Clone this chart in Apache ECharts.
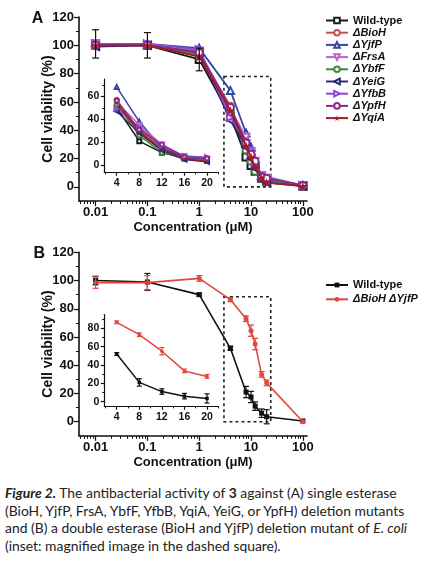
<!DOCTYPE html>
<html><head><meta charset="utf-8">
<script src="https://cdn.jsdelivr.net/npm/echarts@6/dist/echarts.min.js"></script>
<style>
html,body{margin:0;padding:0;background:#fff;width:431px;height:561px;overflow:hidden}
#chart{position:absolute;left:0;top:0;width:431px;height:480px}
#cap{position:absolute;left:5px;top:484px;width:426px;font-family:Lato,'Open Sans',sans-serif;font-size:13.9px;line-height:17.7px;color:#222;white-space:nowrap}
</style></head><body>
<div id="chart"></div>
<div id="cap"><b><i>Figure 2.</i></b> The antibacterial activity of <b>3</b> against (A) single esterase<br>(BioH, YjfP, FrsA, YbfF, YfbB, YqiA, YeiG, or YpfH) deletion mutants<br>and (B) a double esterase (BioH and YjfP) deletion mutant of <i>E. coli</i><br>(inset: magnified image in the dashed square).</div>
<script>
// ---------------- DATA ----------------
const concentrations = [0.01, 0.1, 1, 4, 8, 10, 12, 16, 20, 100];
const insetConcentrations = [4, 8, 12, 16, 20];
const xTickValues = [0.01, 0.1, 1, 10, 100];
const xTickLabels = ['0.01', '0.1', '1', '10', '100'];
const yTickLabelsMain = [0, 20, 40, 60, 80, 100, 120];
const yTickLabelsInsetA = [0, 20, 40, 60];
const yTickLabelsInsetB = [0, 20, 40, 60, 80];
const xTickLabelsInset = [4, 8, 12, 16, 20];

const namesA = ['Wild-type', 'ΔBioH', 'ΔYjfP', 'ΔFrsA', 'ΔYbfF', 'ΔYeiG', 'ΔYfbB', 'ΔYpfH', 'ΔYqiA'];
const wildTypeA = [101, 100, 90, 50, 21, 15, 11, 6, 4, 0.5];
const bioHA     = [100, 100, 94, 57, 30, 22, 16, 6, 4, 0.8];
const yjfPA     = [100, 101, 98, 68, 38, 28, 15, 7, 5, 1];
const frsAA     = [101, 100, 96, 55, 35, 25, 18, 8, 6, 1];
const ybfFA     = [100, 100, 93, 53, 26, 18, 11, 6, 4, 0.5];
const yeiGA     = [99, 100, 95, 47, 28, 20, 13, 5, 3, 0.5];
const yfbBA     = [101, 101, 97, 49, 33, 26, 17, 8, 7, 1];
const ypfHA     = [100, 100, 95, 56, 31, 23, 18, 7, 6, 1];
const yqiAA     = [100, 100, 92, 54, 29, 21, 14, 6, 3, 0.5];
const wildTypeErrA = [10, 9, 8, 0, 0, 0, 0, 0, 0, 0];

const namesB = ['Wild-type ', 'ΔBioH ΔYjfP'];
const wildTypeB = [100, 99, 90, 52, 21, 17.5, 11, 6, 3.5, 0.5];
const doubleB   = [98.5, 98.5, 101.5, 86.5, 73, 64.5, 55, 33.5, 27.5, 0];
const wildTypeErrB = [3, 6, 1, 1.5, 4, 4, 3, 3, 5, 0];
const doubleErrB   = [4, 5, 2, 1.5, 2, 4, 4, 2, 2, 0];

const boxA = [3, 24, 0, 78];    // x0, x1, y0, y1
const boxB = [3, 24, 0, 88.5];

// ---------------- STYLE ----------------
const FONT = '"Liberation Sans", Arial, sans-serif';
const INK = '#111';
const colorsA = ['#1a1a1a', '#c8504a', '#3548a8', '#c060c8', '#3a8a3a', '#2a2a70', '#8a4ad0', '#8a2a8a', '#a01a2a'];
const STAR = 'path://M50,0 L61,35 L98,35 L68,57 L79,91 L50,70 L21,91 L32,57 L2,35 L39,35 Z';
const symbolsA = ['emptyRect', 'emptyCircle', 'emptyTriangle', 'emptyTriangle', 'emptyCircle', 'emptyTriangle', 'emptyTriangle', 'emptyCircle', STAR];
const rotatesA = [0, 0, 0, 180, 0, 90, -90, 0, 0];
const colorsB = ['#111111', '#e2463e'];
const valuesA = [wildTypeA, bioHA, yjfPA, frsAA, ybfFA, yeiGA, yfbBA, ypfHA, yqiAA];

const L = v => Math.log10(v);
const xMinorTicks = [];
for (let e = -3; e <= 1; e++) for (let k = 2; k <= 9; k++) { const v = k * Math.pow(10, e); if (v > 0.0049 && v < 120) xMinorTicks.push(v); }

function labelFor(v) {
  for (let i = 0; i < xTickValues.length; i++) if (Math.abs(L(xTickValues[i]) - v) < 1e-6) return xTickLabels[i];
  return '';
}

const grids = [
  { left: 79, top: 17, width: 228, height: 184 },
  { left: 104.3, top: 79, width: 114, height: 93.2 },
  { left: 79, top: 252.3, width: 228, height: 183.5 },
  { left: 104.3, top: 314.5, width: 114, height: 91.75 }
].map(g => Object.assign({ containLabel: false, outerBoundsMode: 'none' }, g));

const xAxes = [], yAxes = [];
function addX(grid, min, max, majors, minors, fs, fmt, name, lw, tl) {
  xAxes.push({
    type: 'value', gridIndex: grid, min, max, position: 'bottom',
    axisLine: { show: true, onZero: false, lineStyle: { color: INK, width: lw } },
    axisTick: { show: true, customValues: majors, length: tl, lineStyle: { color: INK, width: 1.2 } },
    axisLabel: { show: true, customValues: majors, formatter: fmt, margin: 5, fontSize: fs, fontWeight: 'bold', color: INK, fontFamily: FONT },
    splitLine: { show: false },
    name: name || '', nameLocation: 'middle', nameGap: 20, nameMoveOverlap: false,
    nameTextStyle: { fontSize: 13, fontWeight: 'bold', color: INK, fontFamily: FONT }
  });
  xAxes.push({
    type: 'value', gridIndex: grid, min, max, position: 'bottom', offset: 0,
    axisLine: { show: false, onZero: false },
    axisTick: { show: true, customValues: minors, length: tl * 0.6, lineStyle: { color: INK, width: 1 } },
    axisLabel: { show: false }, splitLine: { show: false }
  });
}
function addY(grid, min, max, majors, minors, fs, name, lw, tl) {
  yAxes.push({
    type: 'value', gridIndex: grid, min, max, position: 'left',
    axisLine: { show: true, onZero: false, lineStyle: { color: INK, width: lw } },
    axisTick: { show: true, customValues: majors, length: tl, lineStyle: { color: INK, width: 1.2 } },
    axisLabel: { show: true, customValues: majors, margin: 5, fontSize: fs, fontWeight: 'bold', color: INK, fontFamily: FONT },
    splitLine: { show: false },
    name: name || '', nameLocation: 'middle', nameGap: 24, nameRotate: 90, nameMoveOverlap: false,
    nameTextStyle: { fontSize: 14, fontWeight: 'bold', color: INK, fontFamily: FONT }
  });
  yAxes.push({
    type: 'value', gridIndex: grid, min, max, position: 'left', offset: 0,
    axisLine: { show: false, onZero: false },
    axisTick: { show: true, customValues: minors, length: tl * 0.6, lineStyle: { color: INK, width: 1 } },
    axisLabel: { show: false }, splitLine: { show: false }
  });
}
const fmtMain = v => labelFor(v);
const fmtInset = v => String(v);
addX(0, -2.32, 2.08, xTickValues.map(L), xMinorTicks.map(L), 13, fmtMain, 'Concentration (μM)', 1.6, 5);
addY(0, -10, 120, yTickLabelsMain, [10, 30, 50, 70, 90, 110], 13, 'Cell viability (%)', 1.6, 5);
addX(1, 1.8, 22, xTickLabelsInset, [2, 6, 10, 14, 18, 22], 10.5, fmtInset, '', 1.2, 3.5);
addY(1, -6, 75, yTickLabelsInsetA, [10, 30, 50, 70], 10.5, '', 1.2, 3.5);
addX(2, -2.32, 2.08, xTickValues.map(L), xMinorTicks.map(L), 13, fmtMain, 'Concentration (μM)', 1.6, 5);
addY(2, -10, 120, yTickLabelsMain, [10, 30, 50, 70, 90, 110], 13, 'Cell viability (%)', 1.6, 5);
addX(3, 1.8, 22, xTickLabelsInset, [2, 6, 10, 14, 18, 22], 10.5, fmtInset, '', 1.2, 3.5);
addY(3, -5, 95, yTickLabelsInsetB, [10, 30, 50, 70, 90], 10.5, '', 1.2, 3.5);

function errorBars(ax, xs, ys, errs, color, cap, useLog) {
  const data = [];
  xs.forEach((x, i) => { if (errs[i] > 0) data.push([useLog ? L(x) : x, ys[i] - errs[i], ys[i] + errs[i]]); });
  return {
    type: 'custom', xAxisIndex: ax, yAxisIndex: ax, z: 4, silent: true, data,
    encode: { x: 0, y: [1, 2] },
    renderItem(params, api) {
      const lo = api.coord([api.value(0), api.value(1)]);
      const hi = api.coord([api.value(0), api.value(2)]);
      const st = { stroke: color, lineWidth: 1.2 };
      return { type: 'group', children: [
        { type: 'line', shape: { x1: lo[0], y1: lo[1], x2: hi[0], y2: hi[1] }, style: st },
        { type: 'line', shape: { x1: lo[0] - cap, y1: lo[1], x2: lo[0] + cap, y2: lo[1] }, style: st },
        { type: 'line', shape: { x1: hi[0] - cap, y1: hi[1], x2: hi[0] + cap, y2: hi[1] }, style: st }
      ] };
    }
  };
}
function dashedBox(ax, box) {
  return {
    type: 'custom', xAxisIndex: ax, yAxisIndex: ax, z: 1, silent: true,
    data: [[L(box[0]), box[2], L(box[1]), box[3]]],
    encode: { x: [0, 2], y: [1, 3] },
    renderItem(params, api) {
      const p0 = api.coord([api.value(0), api.value(3)]);
      const p1 = api.coord([api.value(2), api.value(1)]);
      return { type: 'rect', shape: { x: p0[0], y: p0[1], width: p1[0] - p0[0], height: p1[1] - p0[1] },
        style: { fill: 'none', stroke: '#222', lineWidth: 1.6, lineDash: [3, 3] } };
    }
  };
}
const insetIdx = insetConcentrations.map(c => concentrations.indexOf(c));

const series = [];
// Panel A main
namesA.forEach((n, s) => {
  series.push({
    type: 'line', name: n, xAxisIndex: 0, yAxisIndex: 0, z: 3 + s * 0.01,
    data: concentrations.map((c, i) => [L(c), valuesA[s][i]]),
    symbol: symbolsA[s], symbolRotate: rotatesA[s], symbolSize: s === 8 ? 9 : 7,
    lineStyle: { color: colorsA[s], width: 1.8 }, itemStyle: { color: colorsA[s], borderWidth: 1.4 }
  });
});
series.push(errorBars(0, concentrations, wildTypeA, wildTypeErrA, '#111', 3.5, true));
series.push(dashedBox(0, boxA));
// Panel A inset
namesA.forEach((n, s) => {
  series.push({
    type: 'line', name: n, xAxisIndex: 2, yAxisIndex: 2,
    data: insetIdx.map(i => [concentrations[i], valuesA[s][i]]),
    symbol: symbolsA[s], symbolRotate: rotatesA[s], symbolSize: 4,
    lineStyle: { color: colorsA[s], width: 1.5 }, itemStyle: { color: colorsA[s], borderWidth: 1 }
  });
});
// Panel B main
const valuesB = [wildTypeB, doubleB];
const errsB = [wildTypeErrB, doubleErrB];
namesB.forEach((n, s) => {
  series.push({
    type: 'line', name: n, xAxisIndex: 4, yAxisIndex: 4, z: 3 + s * 0.01,
    data: concentrations.map((c, i) => [L(c), valuesB[s][i]]),
    symbol: s === 0 ? 'rect' : 'circle', symbolSize: 5,
    lineStyle: { color: colorsB[s], width: 1.6 }, itemStyle: { color: colorsB[s] }
  });
  series.push(errorBars(4, concentrations, valuesB[s], errsB[s], colorsB[s], 3, true));
});
series.push(dashedBox(4, boxB));
// Panel B inset
namesB.forEach((n, s) => {
  series.push({
    type: 'line', name: n, xAxisIndex: 6, yAxisIndex: 6,
    data: insetIdx.map(i => [concentrations[i], valuesB[s][i]]),
    symbol: s === 0 ? 'rect' : 'circle', symbolSize: 3.5,
    lineStyle: { color: colorsB[s], width: 1.5 }, itemStyle: { color: colorsB[s] }
  });
  series.push(errorBars(6, insetIdx.map(i => concentrations[i]), insetIdx.map(i => valuesB[s][i]), insetIdx.map(i => errsB[s][i]), colorsB[s], 2.5, false));
});

const option = {
  animation: false,
  backgroundColor: '#fff',
  grid: grids,
  xAxis: xAxes,
  yAxis: yAxes,
  legend: [
    {
      left: 325, top: 15, orient: 'vertical', padding: 0, itemGap: 1.2, itemWidth: 22, itemHeight: 7,
      data: namesA.map((n, i) => ({ name: n, textStyle: { fontStyle: i === 0 ? 'normal' : 'italic' } })),
      textStyle: { fontSize: 11, lineHeight: 11, fontWeight: 'bold', color: INK, fontFamily: FONT }
    },
    {
      left: 325, top: 279.5, orient: 'vertical', padding: 0, itemGap: 3.3, itemWidth: 22, itemHeight: 6,
      data: namesB.map((n, i) => ({ name: n, textStyle: { fontStyle: i === 0 ? 'normal' : 'italic' } })),
      textStyle: { fontSize: 11, lineHeight: 11, fontWeight: 'bold', color: INK, fontFamily: FONT }
    }
  ],
  graphic: [
    { type: 'text', x: 37.5, y: 18.3, style: { text: 'A', font: 'bold 16px "Liberation Sans", Arial', fill: INK, textAlign: 'center', textVerticalAlign: 'middle' } },
    { type: 'text', x: 39.2, y: 253.2, style: { text: 'B', font: 'bold 16px "Liberation Sans", Arial', fill: INK, textAlign: 'center', textVerticalAlign: 'middle' } }
  ],
  series
};
const chart = echarts.init(document.getElementById('chart'));
chart.setOption(option);
</script>
</body></html>
